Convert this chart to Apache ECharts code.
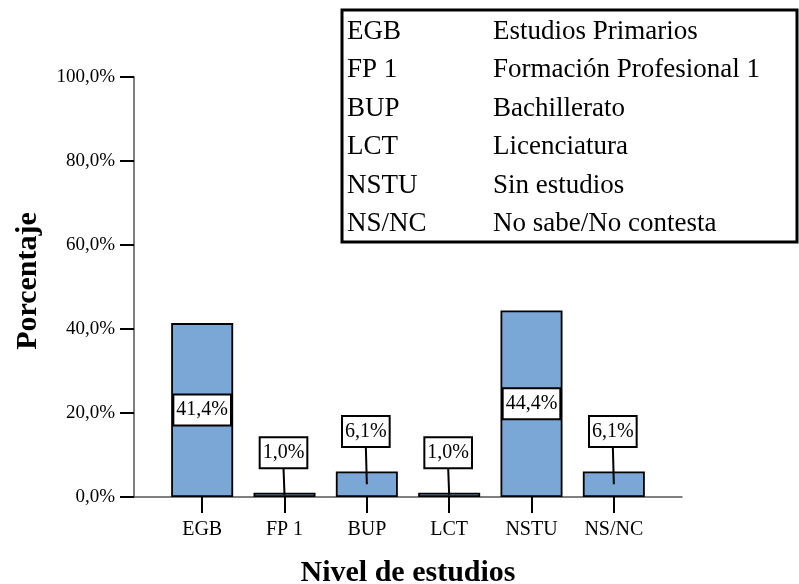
<!DOCTYPE html>
<html>
<head>
<meta charset="utf-8">
<script src="https://cdn.jsdelivr.net/npm/echarts@6/dist/echarts.min.js"></script>
<style>
  html, body { margin: 0; padding: 0; background: #fff; }
  #chart { width: 799px; height: 584px; }
</style>
</head>
<body>
<div id="chart"></div>
<script>
// datos
const categories = ['EGB', 'FP 1', 'BUP', 'LCT', 'NSTU', 'NS/NC']
const percentages = [41.4, 1.0, 6.1, 1.0, 44.4, 6.1]
const descriptions = ['Estudios Primarios', 'Formación Profesional 1', 'Bachillerato', 'Licenciatura', 'Sin estudios', 'No sabe/No contesta']

const serif = "'Liberation Serif', 'Times New Roman', serif"
const fmt = v => v.toFixed(1).replace('.', ',') + '%'

const chart = echarts.init(document.getElementById('chart'))

// tabla de abreviaturas (arriba a la derecha)
const legendItems = [{
  type: 'rect',
  shape: { x: 342, y: 10, width: 455, height: 232 },
  style: { fill: '#fff', stroke: '#000', lineWidth: 3 },
  z: 10
}]
categories.forEach((c, i) => {
  const y = 32 + i * 38.4
  legendItems.push({
    type: 'text', x: 347, y: y, z: 11,
    style: { text: c, font: '27px ' + serif, fill: '#000', verticalAlign: 'middle' }
  })
  legendItems.push({
    type: 'text', x: 493, y: y, z: 11,
    style: { text: descriptions[i], font: '27px ' + serif, fill: '#000', verticalAlign: 'middle' }
  })
})

// etiquetas con caja y linea guia
const renderLabel = (params, api) => {
  const v = api.value(1)
  const mid = api.coord([api.value(0), v / 2])
  const top = api.coord([api.value(0), v])
  const children = []
  let cx = mid[0], cy = mid[1]
  if (v < 20) {
    cx = top[0] - 1
    cy = top[1] - 40
    children.push({
      type: 'line',
      shape: { x1: mid[0], y1: mid[1], x2: cx, y2: cy + 15 },
      style: { stroke: '#000', lineWidth: 2 }
    })
  }
  children.push({
    type: 'text', x: cx, y: cy,
    style: {
      text: fmt(v), font: '20px ' + serif, fill: '#000',
      align: 'center', verticalAlign: 'middle',
      backgroundColor: '#fff', borderColor: '#000', borderWidth: 2,
      padding: [5, 2, 4, 2], lineHeight: 20
    }
  })
  return { type: 'group', children }
}

const option = {
  animation: false,
  textStyle: { fontFamily: serif },
  graphic: legendItems,
  grid: [
    { left: 134, right: 117, top: 77, bottom: 87, containLabel: false, outerBoundsMode: 'none' },
    { left: 161, right: 144, top: 77, bottom: 87, containLabel: false, outerBoundsMode: 'none' }
  ],
  xAxis: [
    {
      gridIndex: 0, type: 'value', min: 0, max: 1,
      axisLine: { show: true, lineStyle: { color: '#555', width: 1.5 } },
      axisTick: { show: false }, axisLabel: { show: false }, splitLine: { show: false },
      name: 'Nivel de estudios', nameLocation: 'middle', nameGap: 61,
      nameTextStyle: { fontSize: 30, fontWeight: 'bold', color: '#000', fontFamily: serif }
    },
    {
      gridIndex: 1, type: 'category', data: categories,
      axisLine: { show: false },
      axisTick: { show: true, alignWithLabel: true, length: 16, lineStyle: { color: '#000', width: 2 } },
      axisLabel: { margin: 23, fontSize: 20, color: '#000', fontFamily: serif }
    }
  ],
  yAxis: [
    {
      gridIndex: 0, type: 'value', min: 0, max: 100, interval: 20,
      axisLine: { show: true, lineStyle: { color: '#555', width: 1.5 } },
      axisTick: { show: true, length: 14, lineStyle: { color: '#000', width: 2 } },
      axisLabel: { formatter: v => fmt(v), margin: 19, fontSize: 19, color: '#000', fontFamily: serif },
      splitLine: { show: false },
      name: 'Porcentaje', nameLocation: 'middle', nameGap: 91, nameRotate: 90,
      nameTextStyle: { fontSize: 30, fontWeight: 'bold', color: '#000', fontFamily: serif, padding: [0, 0, 0, 12] }
    },
    { gridIndex: 1, type: 'value', min: 0, max: 100, show: false }
  ],
  series: [
    {
      type: 'bar', xAxisIndex: 1, yAxisIndex: 1,
      data: percentages, barWidth: 62,
      itemStyle: { color: '#7aa7d6', borderColor: '#000', borderWidth: 1.8 }
    },
    {
      type: 'custom', xAxisIndex: 1, yAxisIndex: 1, z: 5,
      data: percentages.map((v, i) => [i, v]),
      renderItem: renderLabel
    }
  ]
}
chart.setOption(option)
</script>
</body>
</html>
